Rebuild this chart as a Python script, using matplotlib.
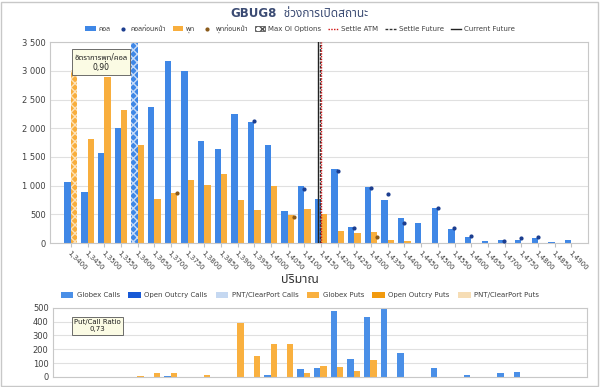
import numpy as np
import matplotlib
matplotlib.use("Agg")
import matplotlib.pyplot as plt
from matplotlib import font_manager
from matplotlib.patches import Patch, Rectangle
from matplotlib.lines import Line2D

# pick a font that has Thai glyphs
names = {f.name for f in font_manager.fontManager.ttflist}
thai = next((n for n in ["Noto Sans Thai", "Noto Sans Thai UI", "Tahoma", "Sarabun",
                         "Loma", "Garuda", "Anuphan"] if n in names), "DejaVu Sans")
plt.rcParams['font.family'] = ['DejaVu Sans', thai]

nan = np.nan
strikes = ["1,%04d" % v for v in range(3400, 4901, 50)]

calls = [1060, 890, 1565, 2005, 3480, 2370, 3165, 2990, 1785, 1640, 2250, 2115, 1710,
         565, 990, 765, 1290, 285, 985, 755, 435, 350, 605, 250, 105, 40, 45, 60, 85, 25, 60]
puts = [3020, 1805, 2890, 2325, 1715, 770, 865, 1090, 1015, 1205, 755, 575, 990,
        495, 590, 505, 215, 170, 185, 55, 40, 5, 5, 5, 5, 3, 2, 5, 3, 0, 0]
prev_calls = [nan, nan, nan, nan, nan, nan, nan, nan, nan, nan, nan, 2120, nan, nan, 940,
              nan, 1250, 262, 960, 855, 343, nan, 605, 262, 128, nan, 40, 81, 99, nan, nan]
prev_puts = [nan, nan, nan, nan, nan, nan, 880, nan, nan, nan, nan, nan, nan, 450, nan,
             nan, nan, nan, 99, nan, nan, nan, nan, nan, nan, nan, nan, nan, nan, nan, nan]

max_call_idx = 4
max_put_idx = 0
settle_atm = 15.0
settle_future = 14.95
current_future = 14.8
pc_ratio_oi = "0,90"

globex_calls = [0, 0, 0, 0, 0, 0, 4, 0, 3, 0, 0, 3, 12, 0, 55, 65, 478, 128, 435, 493,
                171, 2, 65, 2, 17, 0, 31, 34, 2, 0, 0]
globex_puts = [0, 0, 0, 0, 5, 31, 31, 0, 17, 0, 391, 152, 241, 241, 31, 77, 70, 46, 121,
               0, 0, 0, 0, 0, 0, 0, 0, 2, 0, 0, 0]
outcry_calls = [0] * 31
outcry_puts = [0] * 31
pnt_calls = [0] * 31
pnt_puts = [0] * 31
pc_ratio_vol = "0,73"

blue = "#3f87e6"
orange = "#f8ae3d"
grid_c = "#e0e0e0"
txt_c = "#404040"

x = np.arange(len(strikes))
w = 0.38

fig = plt.figure(figsize=(6, 3.87), dpi=100)
fig.patches.append(Rectangle((0.002, 0.002), 0.994, 0.994, transform=fig.transFigure,
                             fill=False, ec="#c8c8c8", lw=1))

# ---- open interest chart
ax = fig.add_axes([0.083, 0.372, 0.897, 0.519])
cb = ax.bar(x - w / 2, calls, w, color=blue, zorder=2)
pb = ax.bar(x + w / 2, puts, w, color=orange, zorder=2)
cb[max_call_idx].set_hatch("xxxx")
cb[max_call_idx].set_edgecolor("#c8dcf8")
cb[max_call_idx].set_linewidth(0)
pb[max_put_idx].set_hatch("xxxx")
pb[max_put_idx].set_edgecolor("#fde2b8")
pb[max_put_idx].set_linewidth(0)
ax.plot(x - w / 2 + 0.18, prev_calls, "o", ms=2, color="#1b3d8f", zorder=3)
ax.plot(x + w / 2 + 0.18, prev_puts, "o", ms=2, color="#8a5a1a", zorder=3)
ax.axvline(current_future, color="#222222", lw=1, zorder=4)
ax.axvline(settle_future, color="#333333", lw=1, ls=(0, (2, 1)), zorder=4)
ax.axvline(settle_atm, color="#d01010", lw=1, ls=(0, (1, 1)), zorder=5)

ax.set_xlim(-1.26, 31.0)
ax.set_ylim(0, 3500)
ax.set_yticks(range(0, 3501, 500))
ax.set_yticklabels([f"{v:,}".replace(",", " ") for v in range(0, 3501, 500)])
ax.set_xticks(x)
ax.set_xticklabels(strikes, rotation=-45, ha="left", va="top", rotation_mode="anchor")
ax.tick_params(axis="x", labelsize=5, length=3, color="#c0c0c0", colors=txt_c, pad=2)
ax.tick_params(axis="y", labelsize=6, length=0, colors=txt_c, pad=3)
ax.grid(axis="y", color=grid_c, lw=0.8, zorder=0)
for s in ax.spines.values():
    s.set_color("#c8c8c8")
    s.set_linewidth(0.8)

ax.text(0.095, 0.9, "อัตราการพุท/คอล\n" + pc_ratio_oi, transform=ax.transAxes,
        fontsize=5.5, ha="center", va="center", color="#202020", zorder=6,
        bbox=dict(boxstyle="square,pad=0.35", fc="#fbfbe4", ec="#555555", lw=0.6))

fig.text(0.462, 0.965, "GBUG8", fontsize=8.5, fontweight="bold", color="#3b4b73",
         ha="right", va="center")
fig.text(0.466, 0.965, " ช่วงการเปิดสถานะ", fontsize=8.5, color="#3b4b73",
         ha="left", va="center")

h1 = [Patch(fc=blue), Line2D([], [], ls="", marker="o", ms=2, color="#1b3d8f"),
      Patch(fc=orange), Line2D([], [], ls="", marker="o", ms=2, color="#8a5a1a"),
      Patch(fc="white", ec="#555555", hatch="xxxx", lw=0.6),
      Line2D([], [], color="#d01010", ls=(0, (1, 1)), lw=1),
      Line2D([], [], color="#333333", ls=(0, (2, 1)), lw=1),
      Line2D([], [], color="#222222", lw=1)]
l1 = ["คอล", "คอลก่อนหน้า", "พุท", "พุทก่อนหน้า", "Max OI Options", "Settle ATM",
      "Settle Future", "Current Future"]
fig.legend(h1, l1, loc="center", bbox_to_anchor=(0.5, 0.925), ncol=8, frameon=False,
           fontsize=5, handlelength=1.5, handleheight=0.8, columnspacing=1.0,
           handletextpad=0.4, labelcolor=txt_c)

# ---- volume chart
fig.text(0.5, 0.277, "ปริมาณ", fontsize=9, color="#333333", ha="center", va="center")

ax2 = fig.add_axes([0.088, 0.026, 0.89, 0.179])
bot_c = np.zeros(len(x))
for vals, col in [(globex_calls, "#4a8fe7"), (outcry_calls, "#1759d6"), (pnt_calls, "#c5d8f1")]:
    ax2.bar(x - w / 2, vals, w, bottom=bot_c, color=col, zorder=2)
    bot_c += np.array(vals)
bot_p = np.zeros(len(x))
for vals, col in [(globex_puts, "#f9b03f"), (outcry_puts, "#f29a0e"), (pnt_puts, "#f6ddb5")]:
    ax2.bar(x + w / 2, vals, w, bottom=bot_p, color=col, zorder=2)
    bot_p += np.array(vals)
ax2.set_xlim(-1.08, 31.0)
ax2.set_ylim(0, 500)
ax2.set_yticks(range(0, 501, 100))
ax2.set_xticks([])
ax2.tick_params(axis="y", labelsize=6, length=0, colors=txt_c, pad=3)
ax2.grid(axis="y", color=grid_c, lw=0.8, zorder=0)
for s in ax2.spines.values():
    s.set_color("#c8c8c8")
    s.set_linewidth(0.8)
ax2.text(0.084, 0.74, "Put/Call Ratio\n" + pc_ratio_vol, transform=ax2.transAxes,
         fontsize=5, ha="center", va="center", color="#202020", zorder=6,
         bbox=dict(boxstyle="square,pad=0.35", fc="#fbfbe4", ec="#555555", lw=0.6))

h2 = [Patch(fc=c) for c in ["#4a8fe7", "#1759d6", "#c5d8f1", "#f9b03f", "#f29a0e", "#f6ddb5"]]
l2 = ["Globex Calls", "Open Outcry Calls", "PNT/ClearPort Calls", "Globex Puts",
      "Open Outcry Puts", "PNT/ClearPort Puts"]
fig.legend(h2, l2, loc="center", bbox_to_anchor=(0.5, 0.237), ncol=6, frameon=False,
           fontsize=5, handlelength=1.8, handleheight=0.8, columnspacing=1.2,
           handletextpad=0.5, labelcolor=txt_c)

fig.savefig("out.png", dpi=100)
